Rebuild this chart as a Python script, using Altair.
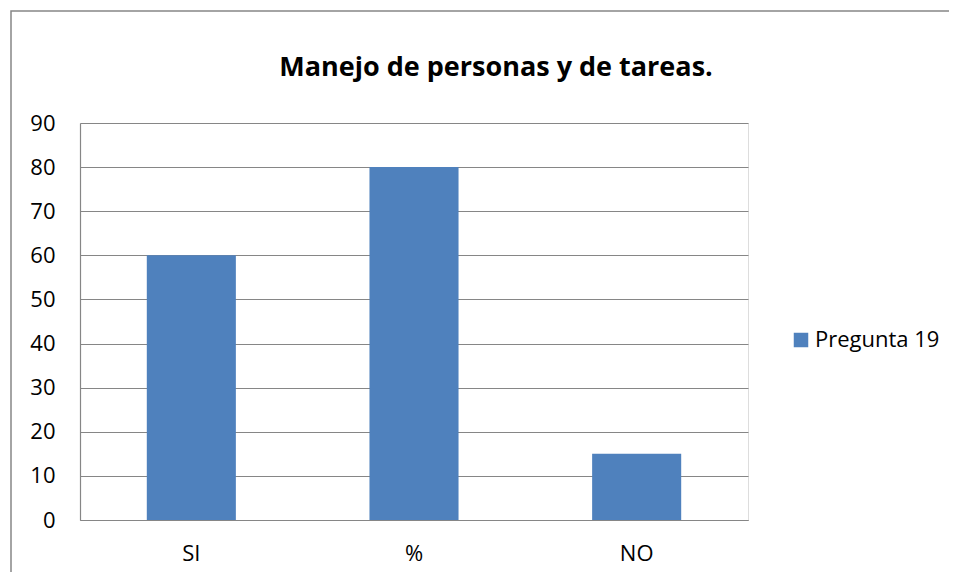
import altair as alt
import pandas as pd

categorias = ["SI", "%", "NO"]
valores = [60, 80, 15]
serie = ["Pregunta 19", "Pregunta 19", "Pregunta 19"]
ticks_y = [0, 10, 20, 30, 40, 50, 60, 70, 80, 90]
titulo = "Manejo de personas y de tareas."

df = pd.DataFrame({"categoria": categorias, "valor": valores, "serie": serie})
one_df = pd.DataFrame({"titulo": [titulo]})

FONT = "Open Sans"
W, H = 668, 397

bars = alt.Chart(df).mark_bar(color="#4F81BD").encode(
    x=alt.X("categoria:N", sort=categorias,
            scale=alt.Scale(paddingInner=0.6, paddingOuter=0.3),
            axis=alt.Axis(title=None, labelAngle=0, ticks=False, domain=True,
                          domainColor="#868686", domainWidth=1.2,
                          labelFontSize=22, labelFont=FONT, labelColor="black",
                          labelPadding=23, grid=False)),
    y=alt.Y("valor:Q", scale=alt.Scale(domain=[0, 90], nice=False),
            axis=alt.Axis(title=None, values=ticks_y, ticks=False,
                          domain=True, domainColor="#868686", domainWidth=1.2,
                          grid=True, gridColor="#868686", gridWidth=1.2,
                          labelFontSize=22, labelFont=FONT, labelColor="black",
                          labelPadding=25)),
    color=alt.Color("serie:N",
                    scale=alt.Scale(domain=["Pregunta 19"], range=["#4F81BD"]),
                    legend=alt.Legend(title=None, orient="none",
                                      legendX=710, legendY=206,
                                      symbolType="square", symbolSize=210,
                                      symbolStrokeWidth=0, symbolOffset=0,
                                      labelFontSize=22, labelFont=FONT,
                                      labelColor="black", labelOffset=3,
                                      padding=0)),
)

frame = alt.Chart(one_df).mark_rect(
    fill=None, stroke="#868686", strokeWidth=1.5
).encode(
    x=alt.value(-69), x2=alt.value(W + 220),
    y=alt.value(-112), y2=alt.value(H + 80),
)

title = alt.Chart(one_df).mark_text(
    font=FONT, fontSize=27, fontWeight="bold", color="black",
    align="center", baseline="alphabetic"
).encode(
    text="titulo:N", x=alt.value(416), y=alt.value(-47),
)

chart = alt.layer(frame, bars, title).properties(
    width=W, height=H,
    padding={"left": 72, "top": 115, "right": 201, "bottom": 52},
    autosize=alt.AutoSizeParams(type="none"),
).configure_view(stroke=None).configure(background="white")

chart.save("out.html", embed_options={"renderer": "svg", "actions": False})
